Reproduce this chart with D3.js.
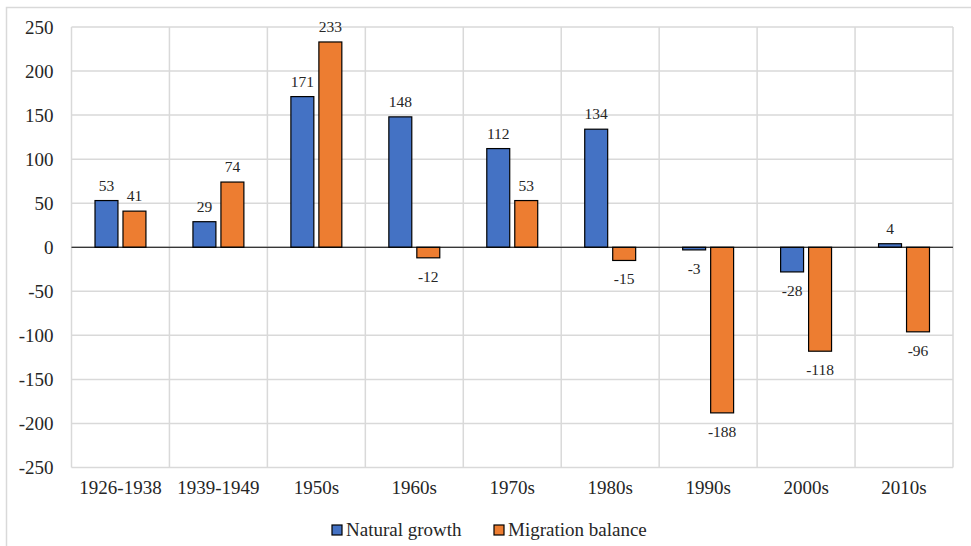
<!DOCTYPE html>
<html><head><meta charset="utf-8">
<script src="https://cdn.jsdelivr.net/npm/d3@7"></script>
<style>body{margin:0;background:#fff}svg{display:block}text{font-family:"Liberation Serif","Times New Roman","DejaVu Serif",serif !important;fill:#262626}</style>
</head><body>
<script>
const categories = ["1926-1938","1939-1949","1950s","1960s","1970s","1980s","1990s","2000s","2010s"];
const naturalGrowth = [53,29,171,148,112,134,-3,-28,4];
const migrationBalance = [41,74,233,-12,53,-15,-188,-118,-96];
const seriesNames = ["Natural growth","Migration balance"];
const seriesColors = ["#4472C4","#ED7D31"];
const yTicks = [-250,-200,-150,-100,-50,0,50,100,150,200,250];

const W=971,H=546;
const svg=d3.select("body").append("svg").attr("width",W).attr("height",H);
svg.append("rect").attr("x",6.5).attr("y",7.5).attr("width",W).attr("height",H).attr("fill","none").attr("stroke","#d9d9d9").attr("stroke-width",1.5);

const L=71.5,R=953,T=27,B=467.5;
const x=d3.scaleBand().domain(categories).range([L,R]);
const y=d3.scaleLinear().domain([-250,250]).range([B,T]);
const inner=d3.scaleBand().domain([0,1]).range([0,x.bandwidth()]).paddingInner(0.18).paddingOuter(0.84);

// grid
const g=svg.append("g");
g.selectAll(".hg").data(yTicks).join("line").attr("x1",L).attr("x2",R).attr("y1",d=>y(d)).attr("y2",d=>y(d)).attr("stroke","#d9d9d9").attr("stroke-width",1.5);
const vb=categories.map(c=>x(c)).concat([R]);
g.selectAll(".vg").data(vb).join("line").attr("x1",d=>d).attr("x2",d=>d).attr("y1",T).attr("y2",B).attr("stroke","#d9d9d9").attr("stroke-width",1.5);

// y axis labels
const ya=svg.append("g").attr("transform",`translate(${L-18},0)`).call(d3.axisLeft(y).tickValues(yTicks).tickFormat(d=>String(d)).tickSize(0).tickPadding(0));
ya.select(".domain").remove();
ya.selectAll("text").attr("font-size","19px");

// x axis labels
const xa=svg.append("g").attr("transform",`translate(0,${B+13})`).call(d3.axisBottom(x).tickSize(0).tickPadding(0));
xa.select(".domain").remove();
xa.selectAll("text").attr("font-size","19px").attr("dy","0.71em");

const series=[naturalGrowth,migrationBalance];
series.forEach((vals,si)=>{
  const grp=svg.append("g");
  grp.selectAll("rect").data(vals).join("rect")
    .attr("x",(d,i)=>x(categories[i])+inner(si))
    .attr("width",inner.bandwidth())
    .attr("y",d=>y(Math.max(0,d)))
    .attr("height",d=>Math.abs(y(d)-y(0)))
    .attr("fill",seriesColors[si]).attr("stroke","#000").attr("stroke-width",1.2);
  grp.selectAll("text").data(vals).join("text")
    .attr("x",(d,i)=>x(categories[i])+inner(si)+inner.bandwidth()/2)
    .attr("y",d=>d>=0?y(d)-10:y(d)+24)
    .attr("text-anchor","middle").attr("font-size","15.5px").text(d=>String(d));
});

// zero line
svg.append("line").attr("x1",L).attr("x2",R).attr("y1",y(0)).attr("y2",y(0)).attr("stroke","#000").attr("stroke-width",1.2);

// legend
const lg=svg.append("g");
const lx=[332,494];
seriesNames.forEach((n,i)=>{
  lg.append("rect").attr("x",lx[i]).attr("y",525).attr("width",10).attr("height",10).attr("fill",seriesColors[i]).attr("stroke","#000").attr("stroke-width",1.2);
  lg.append("text").attr("x",lx[i]+14).attr("y",536).attr("font-size","19px").text(n);
});
</script>
</body></html>
